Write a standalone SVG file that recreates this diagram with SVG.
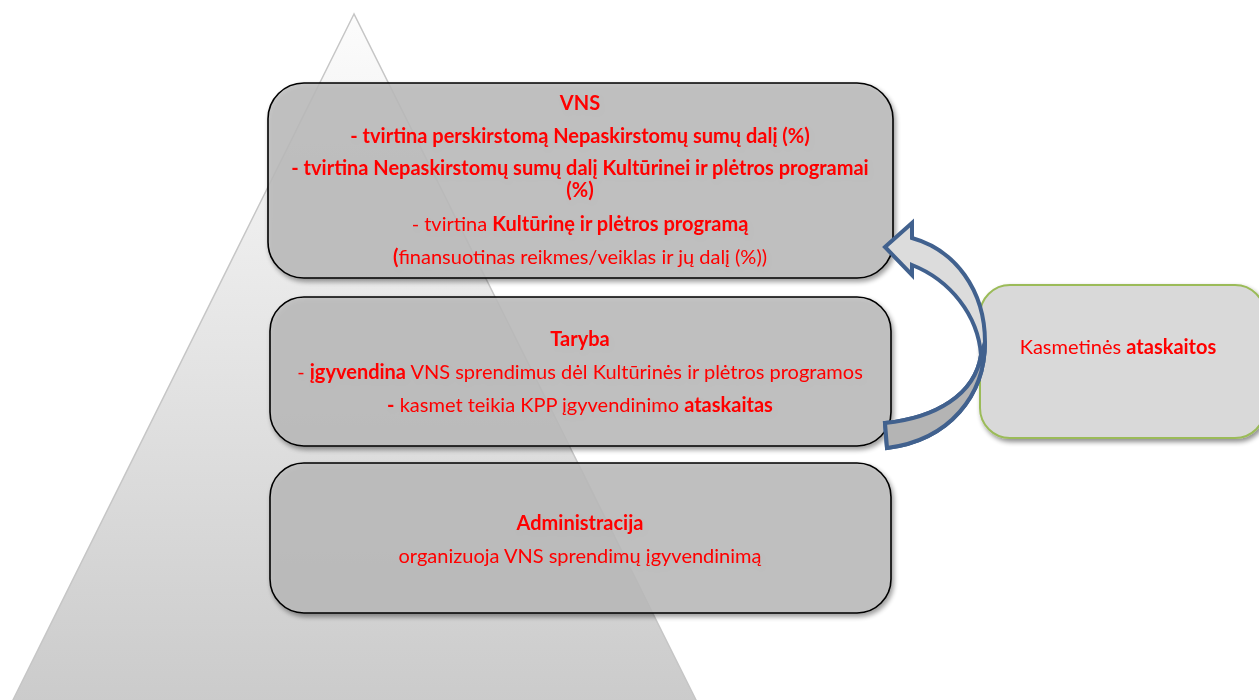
<svg xmlns="http://www.w3.org/2000/svg" width="1259" height="700" viewBox="0 0 1259 700">
<defs>
<linearGradient id="tri" x1="0" y1="0" x2="0" y2="1">
<stop offset="0" stop-color="#fcfcfc"/>
<stop offset="0.5" stop-color="#e4e4e4"/>
<stop offset="1" stop-color="#cbcbcb"/>
</linearGradient>
<filter id="sh" x="-5%" y="-5%" width="115%" height="125%">
<feGaussianBlur in="SourceAlpha" stdDeviation="2.5"/>
<feOffset dx="2" dy="3" result="b"/>
<feComponentTransfer><feFuncA type="linear" slope="0.45"/></feComponentTransfer>
<feMerge><feMergeNode/><feMergeNode in="SourceGraphic"/></feMerge>
</filter>
</defs>
<style>
.box{fill:#bdbdbd;fill-opacity:0.84;stroke:#000;stroke-width:1.6}
.t{font-family:Lato,"Open Sans","Liberation Sans",sans-serif;font-size:20px;fill:#ff0000;text-anchor:middle}
.b{font-weight:bold}
.arr{stroke:#41618e;stroke-width:4;stroke-linejoin:miter}
</style>
<rect width="1259" height="700" fill="#fff"/>
<g id="pyramid">
<polygon points="354,14 12,702 697,702" fill="url(#tri)" stroke="#c6c6c6" stroke-width="1.5"/>
</g>
<g id="vns" filter="url(#sh)">
<rect class="box" x="268" y="83" width="625" height="195" rx="36"/>
<text class="t b" x="580" y="110">VNS</text>
<text class="t b" x="580" y="143">- tvirtina perskirstomą Nepaskirstomų sumų dalį (%)</text>
<text class="t b" x="580" y="175">- tvirtina Nepaskirstomų sumų dalį Kultūrinei ir plėtros programai</text>
<text class="t b" x="580" y="197">(%)</text>
<text class="t" x="580" y="231">- tvirtina <tspan class="b">Kultūrinę ir plėtros programą</tspan></text>
<text class="t" x="580" y="264"><tspan class="b">(</tspan>finansuotinas reikmes/veiklas ir jų dalį (%))</text>
</g>
<g id="taryba" filter="url(#sh)">
<rect class="box" x="270" y="297" width="621" height="149" rx="34"/>
<text class="t b" x="580" y="346">Taryba</text>
<text class="t" x="580" y="379">- <tspan class="b">įgyvendina</tspan> VNS sprendimus dėl Kultūrinės ir plėtros programos</text>
<text class="t" x="580" y="412"><tspan class="b">-</tspan> kasmet teikia KPP įgyvendinimo <tspan class="b">ataskaitas</tspan></text>
</g>
<g id="administracija" filter="url(#sh)">
<rect class="box" x="270" y="463" width="621" height="150" rx="34"/>
<text class="t b" x="580" y="530">Administracija</text>
<text class="t" x="580" y="563">organizuoja VNS sprendimų įgyvendinimą</text>
</g>
<g id="ataskaitos" filter="url(#sh)">
<rect x="980" y="285" width="285" height="153" rx="30" fill="#d9d9d9" stroke="#9bbb59" stroke-width="2"/>
<text class="t" x="1118" y="354">Kasmetinės <tspan class="b">ataskaitos</tspan></text>
</g>
<g id="connectors">
<path class="arr" d="M885,247 L912,223 L912,238 C955,250 985,290 985,342 C985,395 950,440 887,448 L885,423 C935,418 975,395 981,355 C978,315 950,280 912,265 L912,275 Z" fill="#dcdcdc"/>
<path class="arr" d="M985,342 C985,395 950,440 887,448 L885,423 C935,418 975,395 981,355 Z" fill="#b4b4b4"/>
</g>
</svg>
